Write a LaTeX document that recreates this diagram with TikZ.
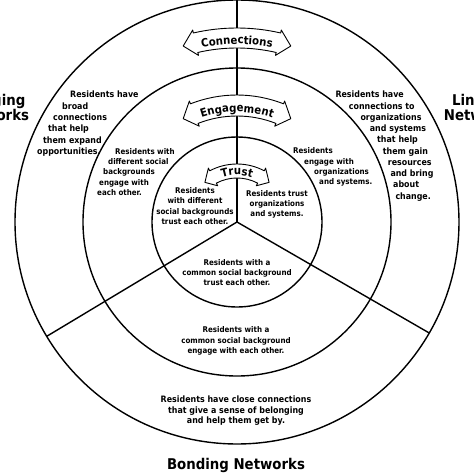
\documentclass[tikz,border=0pt]{standalone}
\usepackage{fontspec}
\setmainfont{DejaVu Sans}[FakeStretch=0.9]
\usetikzlibrary{decorations.text}
\tikzset{
  ring/.style={line width=1.4pt},
  banner/.style={draw, fill=white, line width=0.9pt, line join=round},
  innertext/.style={font=\bfseries\fontsize{7.9}{10}\selectfont, inner sep=0pt},
  outertext/.style={font=\bfseries\fontsize{8.8}{11}\selectfont, inner sep=0pt},
  title/.style={font=\bfseries\fontsize{14.8}{14}\selectfont, inner sep=0pt},
}
\newcommand\bannerfont{\bfseries\fontsize{11.3}{12}\selectfont}
\begin{document}
\begin{tikzpicture}[x=1pt,y=1pt]
  \useasboundingbox (-237,-252) rectangle (237,222);
  \coordinate (O) at (0,0);
  % the three rings and the three sector lines
  \foreach \r in {85,154,222}
    \draw[ring] (O) circle (\r);
  \foreach \a in {90,211,330}
    \draw[ring] (O) -- (\a:222);
  % curved double arrows: outer radius / inner radius / end angle / tip angle
  \foreach \ro/\ri/\t/\tp in {194/174/13/17, 127/106/21.5/27.5, 58/44/28/39}
    \filldraw[banner] ({90+\t}:\ro) arc[start angle=90+\t, end angle=90-\t, radius=\ro]
      -- ({90-\t}:{\ro+3}) -- ({90-\tp}:{(\ro+\ri)/2}) -- ({90-\t}:{\ri-3})
      -- ({90-\t}:\ri) arc[start angle=90-\t, end angle=90+\t, radius=\ri]
      -- ({90+\t}:{\ri-3}) -- ({90+\tp}:{(\ro+\ri)/2}) -- ({90+\t}:{\ro+3}) -- cycle;
  \path[decorate, decoration={text along path, text={|\bannerfont|Connections}, text align=center}]
    (103:178) arc[start angle=103, end angle=77, radius=178];
  \path[decorate, decoration={text along path, text={|\bannerfont|Engagement}, text align=center}]
    (112:110) arc[start angle=112, end angle=68, radius=110];
  \path[decorate, decoration={text along path, text={|\bannerfont|Trust}, text align=center}]
    (120:47) arc[start angle=120, end angle=60, radius=47];
  % texts, placed in picture pixels (y down)
  \begin{scope}[x=1pt,y=-1pt,shift={(-237pt,222pt)}]
    \node[title, anchor=base] (bonding) at (236,469) {Bonding Networks};
    \node[title, anchor=base] (bridging1) at (-6.6,106) {Bridging};
    \node[title, anchor=base] (bridging2) at (-6.6,120) {Networks};
    \node[title, anchor=base] (linking1) at (479.6,106) {Linking};
    \node[title, anchor=base] (linking2) at (479.6,120) {Networks};
    % outer ring
    \foreach \txt/\x/\y [count=\i] in {Residents have/70/97.8, broad/62/109.3,
        connections/53/120.6, that help/48/131.9, them expand/43/143.2,
        opportunities./37/154.5}
      \node[outertext, anchor=base west] (bridge\i) at (\x,\y) {\txt};
    \foreach \txt/\x/\y [count=\i] in {Residents have/335.3/97.5,
        connections to/348.7/109.5, organizations/360.3/120.5,
        and systems/369.7/131.5, that help/377/143, them gain/382.7/154,
        resources/387.7/165.5, and bring/390.3/176.5, about/393/187.5,
        change./395.3/199}
      \node[outertext, anchor=base west] (link\i) at (\x,\y) {\txt};
    \foreach \txt/\y [count=\i] in {Residents have close connections/402.5,
        that give a sense of belonging/413.5, and help them get by./423.5}
      \node[outertext, anchor=base] (bond\i) at (236,\y) {\txt};
    % middle ring
    \foreach \txt/\x/\y [count=\i] in {Residents with/115/154,
        different social/108/164, backgrounds/103/174.3,
        engage with/99/185, each other./97/195}
      \node[innertext, anchor=base west] (engleft\i) at (\x,\y) {\txt};
    \foreach \txt/\x/\y [count=\i] in {Residents/293/153.5,
        engage with/304/164.5, organizations/314/174, and systems./319/184.5}
      \node[innertext, anchor=base west] (engright\i) at (\x,\y) {\txt};
    \foreach \txt/\y [count=\i] in {Residents with a/332,
        common social background/343, engage with each other./353.5}
      \node[innertext, anchor=base] (engbottom\i) at (236,\y) {\txt};
    % inner circle
    \foreach \txt/\y [count=\i] in {Residents/193.7, with different/203.7,
        social backgrounds/214, trust each other./224.3}
      \node[innertext, anchor=base] (trustleft\i) at (195,\y) {\txt};
    \foreach \txt/\y [count=\i] in {Residents trust/196, organizations/206,
        and systems./216}
      \node[innertext, anchor=base] (trustright\i) at (277,\y) {\txt};
    \foreach \txt/\y [count=\i] in {Residents with a/265,
        common social background/275, trust each other./285}
      \node[innertext, anchor=base] (trustbottom\i) at (237,\y) {\txt};
  \end{scope}
\end{tikzpicture}
\end{document}
